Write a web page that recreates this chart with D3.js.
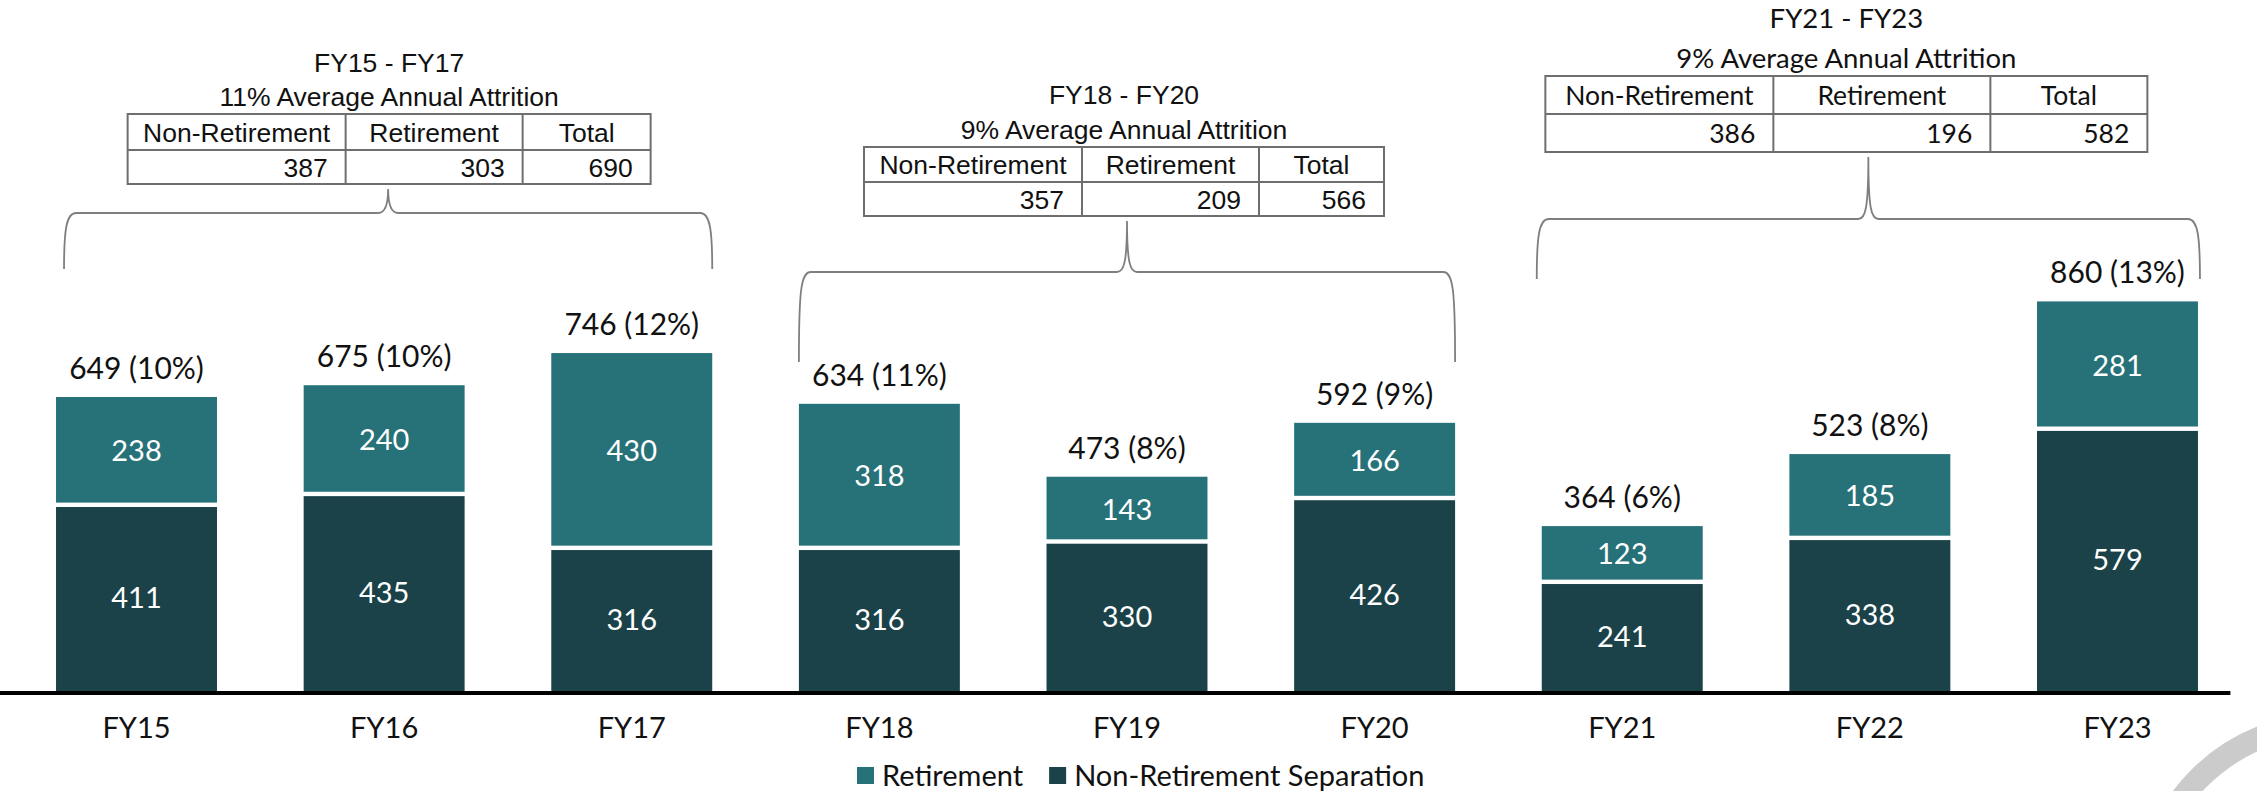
<!DOCTYPE html>
<html><head><meta charset="utf-8">
<script src="https://cdn.jsdelivr.net/npm/d3@7"></script>
<style>
html,body{margin:0;padding:0;background:#fff;}
svg{display:block;}
</style></head>
<body>
<svg id="chart" width="2257" height="791"></svg>
<script>
// Annual separations by fiscal year
const categories = ["FY15","FY16","FY17","FY18","FY19","FY20","FY21","FY22","FY23"];
const retirement = [238,240,430,318,143,166,123,185,281];
const nonRetirement = [411,435,316,316,330,426,241,338,579];
const attritionPct = [10,10,12,11,8,9,6,8,13];
const seriesNames = ["Retirement","Non-Retirement Separation"];

// Three-year period summaries
const periodLabels = ["FY15 - FY17","FY18 - FY20","FY21 - FY23"];
const periodFirst = ["FY15","FY18","FY21"];
const periodLast = ["FY17","FY20","FY23"];
const periodAvgPct = [11,9,9];
const periodNonRet = [387,357,386];
const periodRet = [303,209,196];
const periodTotal = [690,566,582];
const tableHeaders = ["Non-Retirement","Retirement","Total"];

const colors = {ret:"#277179", non:"#1a4248"};
const calibriLike = "Lato, 'Open Sans', sans-serif";
const arialLike = "'Liberation Sans', Arial, sans-serif";

const svg = d3.select("#chart");

const x = d3.scaleBand().domain(categories).range([12.7, 2241.3])
  .paddingInner(0.35).paddingOuter(0.175);
const y = d3.scaleLinear().domain([0, 1000]).range([691, 238]);
const bw = x.bandwidth();
const gap = 2.2;

const rows = categories.map((c, i) => ({
  cat: c, ret: retirement[i], non: nonRetirement[i],
  total: retirement[i] + nonRetirement[i], pct: attritionPct[i]
}));

// decorative ring in the lower-right corner
svg.append("circle").attr("cx", 2330).attr("cy", 909).attr("r", 185)
  .attr("fill", "none").attr("stroke", "#cbcbcb").attr("stroke-width", 23);

const bars = svg.append("g");
// non-retirement segment (bottom)
bars.selectAll("rect.non").data(rows).join("rect").attr("class","non")
  .attr("x", d => x(d.cat)).attr("width", bw)
  .attr("y", d => y(d.non) + gap).attr("height", d => y(0) - y(d.non) - gap)
  .attr("fill", colors.non);
// retirement segment (top)
bars.selectAll("rect.ret").data(rows).join("rect").attr("class","ret")
  .attr("x", d => x(d.cat)).attr("width", bw)
  .attr("y", d => y(d.total)).attr("height", d => y(d.non) - y(d.total) - gap)
  .attr("fill", colors.ret);

const segText = svg.append("g").attr("font-family", calibriLike)
  .attr("font-size", 29).attr("fill", "#fff").attr("text-anchor", "middle");
segText.selectAll("text.rv").data(rows).join("text")
  .attr("x", d => x(d.cat) + bw/2).attr("y", d => (y(d.total) + y(d.non))/2)
  .attr("dy", "0.36em").text(d => d.ret);
segText.selectAll("text.nv").data(rows).join("text")
  .attr("x", d => x(d.cat) + bw/2).attr("y", d => (y(d.non) + y(0))/2)
  .attr("dy", "0.36em").text(d => d.non);

// totals with attrition rate
svg.append("g").attr("font-family", calibriLike).attr("font-size", 30)
  .attr("fill", "#111").attr("text-anchor", "middle")
  .selectAll("text").data(rows).join("text")
  .attr("x", d => x(d.cat) + bw/2).attr("y", d => y(d.total) - 18)
  .text(d => `${d.total} (${d.pct}%)`);

// baseline axis
const axis = svg.append("g").attr("transform", `translate(0,${y(0)})`)
  .call(d3.axisBottom(x).tickSize(0).tickPadding(26));
axis.select(".domain").attr("stroke", "#000").attr("stroke-width", 4)
  .attr("d", "M-1.7,2H2230.4");
axis.selectAll(".tick text").attr("font-family", calibriLike)
  .attr("font-size", 29).attr("fill", "#111");

// legend
const legend = svg.append("g").attr("font-family", calibriLike).attr("font-size", 29).attr("fill", "#111");
let lx = 857;
seriesNames.forEach((name, i) => {
  legend.append("rect").attr("x", lx).attr("y", 767).attr("width", 17).attr("height", 17)
    .attr("fill", i === 0 ? colors.ret : colors.non);
  const t = legend.append("text").attr("x", lx + 25).attr("y", 786).text(name);
  lx += 25 + t.node().getComputedTextLength() + 26;
});

// period tables with braces
const tableLayout = [
  {top:114, cols:[218,177,128], rh:[36,34], font:arialLike, size:26.5, hsize:26.5, titleDy:-42, subDy:-8, dx:1,
   braceL:8, braceR:0, yBar:213, yLeg:269, pad:18},
  {top:147, cols:[218,177,125], rh:[35,34], font:arialLike, size:26.5, hsize:26.5, titleDy:-43, subDy:-8, dx:-3,
   braceL:0, braceR:0, yBar:272, yLeg:362, pad:18},
  {top:76, cols:[228,217,157], rh:[38,38], font:calibriLike, size:27.5, hsize:26.5, titleDy:-48, subDy:-8, dx:-22,
   braceL:-5, braceR:2, yBar:219, yLeg:279, pad:18}
];

periodLabels.forEach((label, i) => {
  const L = tableLayout[i];
  const xl = x(periodFirst[i]) + L.braceL;
  const xr = x(periodLast[i]) + bw + L.braceR;
  const xc = (xl + xr) / 2;
  const tableW = d3.sum(L.cols);
  const tx = xc + L.dx - tableW / 2;
  const bottom = L.top + L.rh[0] + L.rh[1];
  const yTip = bottom + 5;
  const yb = L.yBar;

  const p = d3.path();
  p.moveTo(xl, L.yLeg);
  p.bezierCurveTo(xl, yb + 18, xl + 2, yb, xl + 12, yb);
  p.lineTo(xc - 10, yb);
  p.bezierCurveTo(xc - 3, yb, xc, yb - 10, xc, yTip);
  p.bezierCurveTo(xc, yb - 10, xc + 3, yb, xc + 10, yb);
  p.lineTo(xr - 12, yb);
  p.bezierCurveTo(xr - 2, yb, xr, yb + 18, xr, L.yLeg);
  svg.append("path").attr("d", p.toString()).attr("fill", "none")
    .attr("stroke", "#7f7f7f").attr("stroke-width", 1.8);

  const g = svg.append("g").attr("font-family", L.font).attr("font-size", L.size).attr("fill", "#111");
  g.append("text").attr("x", tx + tableW/2).attr("y", L.top + L.titleDy)
    .attr("text-anchor", "middle").text(label);
  g.append("text").attr("x", tx + tableW/2).attr("y", L.top + L.subDy)
    .attr("text-anchor", "middle").text(`${periodAvgPct[i]}% Average Annual Attrition`);

  const lines = g.append("g").attr("stroke", "#6e6e6e").attr("stroke-width", 2).attr("fill", "none");
  lines.append("rect").attr("x", tx).attr("y", L.top).attr("width", tableW).attr("height", bottom - L.top);
  lines.append("line").attr("x1", tx).attr("x2", tx + tableW)
    .attr("y1", L.top + L.rh[0]).attr("y2", L.top + L.rh[0]);
  const edges = d3.cumsum(L.cols);
  [edges[0], edges[1]].forEach(e => lines.append("line")
    .attr("x1", tx + e).attr("x2", tx + e).attr("y1", L.top).attr("y2", bottom));

  const vals = [periodNonRet[i], periodRet[i], periodTotal[i]];
  tableHeaders.forEach((h, j) => {
    const c0 = tx + (j ? edges[j-1] : 0), c1 = tx + edges[j];
    g.append("text").attr("x", (c0 + c1)/2).attr("y", L.top + L.rh[0]/2)
      .attr("dy", "0.36em").attr("font-size", L.hsize).attr("text-anchor", "middle").text(h);
    g.append("text").attr("x", c1 - L.pad).attr("y", L.top + L.rh[0] + L.rh[1]/2)
      .attr("dy", "0.36em").attr("font-size", L.hsize).attr("text-anchor", "end").text(vals[j]);
  });
});
</script>
</body></html>
